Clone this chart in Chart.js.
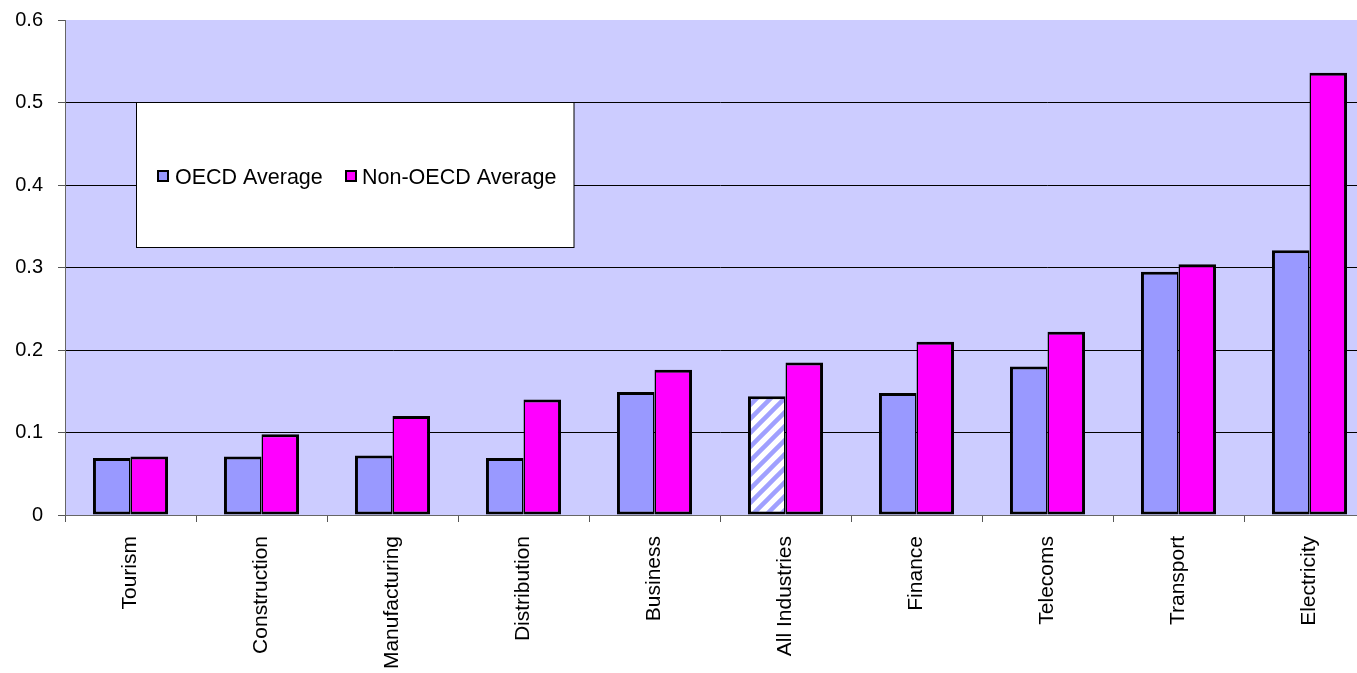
<!DOCTYPE html>
<html>
<head>
<meta charset="utf-8">
<script src="https://cdn.jsdelivr.net/npm/chart.js@4"></script>
<style>
html,body{margin:0;padding:0;background:#fff;overflow:hidden;width:1357px;height:673px;position:relative;}
#wrap{position:absolute;left:0;top:-7px;width:1377px;height:680px;}
</style>
</head>
<body>
<div id="wrap"><canvas id="c"></canvas></div>
<script>
const categories = ['Tourism','Construction','Manufacturing','Distribution','Business','All Industries','Finance','Telecoms','Transport','Electricity'];
const oecdValues = [0.069,0.071,0.072,0.069,0.149,0.144,0.148,0.180,0.295,0.321];
const nonOecdValues = [0.071,0.098,0.120,0.140,0.176,0.185,0.210,0.222,0.304,0.536];
const yTickLabels = ['0','0.1','0.2','0.3','0.4','0.5','0.6'];
const seriesNames = ['OECD Average','Non-OECD Average'];
const hatchedIndex = 5;

const FONT = '"Liberation Sans", Arial, sans-serif';

function makeHatch(){
  const n = 14;
  const p = document.createElement('canvas');
  p.width = n; p.height = n;
  const g = p.getContext('2d');
  g.fillStyle = '#ffffff'; g.fillRect(0,0,n,n);
  g.strokeStyle = '#a0a0ff'; g.lineWidth = 4.5;
  g.beginPath();
  g.moveTo(-3,n+3); g.lineTo(n+3,-3);
  g.moveTo(-3,3); g.lineTo(3,-3);
  g.moveTo(n-3,n+3); g.lineTo(n+3,n-3);
  g.stroke();
  return g.createPattern(p,'repeat');
}
const hatch = makeHatch();

const oecdColors = oecdValues.map((v,i)=> i===hatchedIndex ? hatch : '#9999ff');

const bgPlugin = {
  id:'bg',
  beforeDraw(chart){
    const {ctx, chartArea:a} = chart;
    ctx.save();
    ctx.fillStyle = '#ccccff';
    ctx.fillRect(a.left, a.top, a.right-a.left, a.bottom-a.top);
    ctx.restore();
  }
};

// legend box drawn in page coordinates (canvas is shifted up by 7px)
const SHIFT = 7;
const legendPlugin = {
  id:'boxLegend',
  afterDraw(chart){
    const ctx = chart.ctx;
    ctx.save();
    ctx.translate(0, SHIFT);
    ctx.fillStyle = '#ffffff';
    ctx.fillRect(136.5,102.5,437.5,145);
    ctx.strokeStyle = '#000'; ctx.lineWidth = 1;
    ctx.strokeRect(136.5,102.5,437.5,145);
    const items = [
      {x:157, tx:175, color:'#9999ff', label:chart.data.datasets[0].label},
      {x:345, tx:362, color:'#ff00ff', label:chart.data.datasets[1].label}
    ];
    ctx.font = '21.5px ' + FONT;
    ctx.textBaseline = 'alphabetic';
    ctx.textAlign = 'left';
    items.forEach(it=>{
      ctx.fillStyle = it.color;
      ctx.fillRect(it.x+1, 171, 10, 10);
      ctx.strokeStyle = '#000'; ctx.lineWidth = 2;
      ctx.strokeRect(it.x+1, 171, 10, 10);
      ctx.fillStyle = '#000';
      ctx.fillText(it.label, it.tx, 184);
    });
    ctx.restore();
  }
};

new Chart(document.getElementById('c'), {
  type:'bar',
  data:{
    labels: categories,
    datasets:[
      {label:seriesNames[0], data:oecdValues, backgroundColor:oecdColors, borderColor:'#000',
       borderWidth:{top:3,left:3,bottom:3,right:1.5}, borderSkipped:false},
      {label:seriesNames[1], data:nonOecdValues, backgroundColor:'#ff00ff', borderColor:'#000',
       borderWidth:{top:3,left:1.5,bottom:3,right:3}, borderSkipped:false}
    ]
  },
  options:{
    responsive:true,
    maintainAspectRatio:false,
    animation:false,
    layout:{padding:{top:13,right:2,left:0,bottom:0}},
    categoryPercentage:0.573,
    barPercentage:1.0,
    plugins:{legend:{display:false}, tooltip:{enabled:false}},
    scales:{
      x:{
        offset:true,
        grid:{offset:true, drawOnChartArea:false, drawTicks:true, tickLength:7, color:'#555', tickWidth:1},
        border:{display:true, color:'#666', width:1},
        ticks:{maxRotation:90, minRotation:90, autoSkip:false, padding:14, color:'#000', font:{family:FONT, size:21}},
        afterFit(s){ s.height = 158; }
      },
      y:{
        min:0, max:0.6,
        ticks:{stepSize:0.1, padding:15, color:'#000', font:{family:FONT, size:20},
          callback:(v,i)=> yTickLabels[i]},
        grid:{
          color:(c)=> c.index===0 ? '#666' : (c.index===6 ? 'rgba(0,0,0,0)' : '#000'),
          tickColor:'#555', tickLength:7, lineWidth:1
        },
        border:{display:true, color:'#666', width:1},
        afterFit(s){ s.width = 65; }
      }
    }
  },
  plugins:[bgPlugin, legendPlugin]
});
</script>
</body>
</html>
